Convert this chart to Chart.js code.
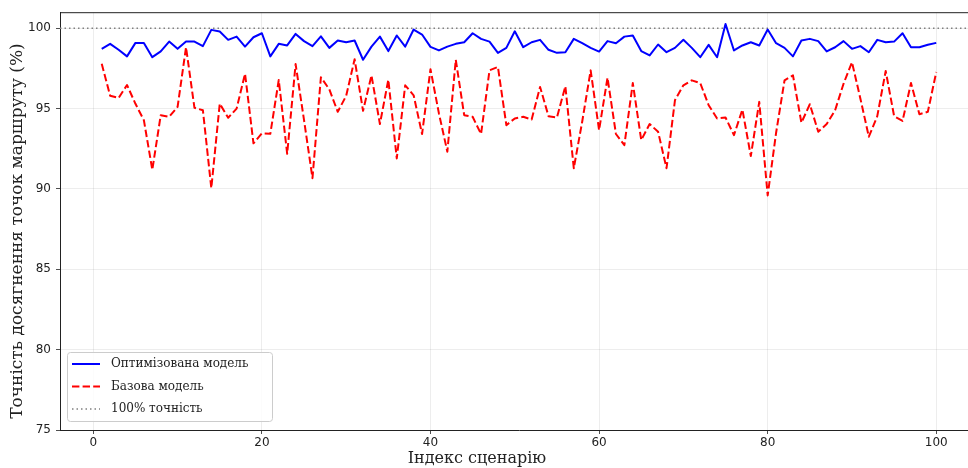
<!DOCTYPE html>
<html>
<head>
<meta charset="utf-8">
<script src="https://cdn.jsdelivr.net/npm/chart.js@4.4.1/dist/chart.umd.min.js"></script>
<style>
  html, body { margin: 0; padding: 0; background: #fff; overflow: hidden; }
  #wrap { width: 968px; height: 468px; overflow: hidden; }
</style>
</head>
<body>
<div id="wrap"><canvas id="graph" width="980" height="468"></canvas></div>
<script>
// scenario index 1..100
const scenarios = Array.from({ length: 100 }, (_, i) => i + 1);

const optimized = [
  98.72, 99.03, 98.66, 98.25, 99.09, 99.09, 98.2, 98.56, 99.17, 98.72,
  99.17, 99.17, 98.89, 99.9, 99.8, 99.28, 99.48, 98.86, 99.44, 99.69,
  98.25, 99.03, 98.93, 99.65, 99.2, 98.89, 99.5, 98.78, 99.24, 99.13,
  99.24, 98.04, 98.86, 99.48, 98.58, 99.55, 98.86, 99.92, 99.61, 98.84,
  98.62, 98.86, 99.03, 99.13, 99.69, 99.34, 99.17, 98.47, 98.78, 99.81,
  98.82, 99.13, 99.28, 98.66, 98.47, 98.51, 99.34, 99.07, 98.78, 98.55,
  99.2, 99.07, 99.48, 99.55, 98.58, 98.31, 98.99, 98.51, 98.78, 99.28,
  98.78, 98.2, 98.97, 98.2, 100.27, 98.62, 98.93, 99.13, 98.93, 99.92,
  99.07, 98.78, 98.25, 99.24, 99.34, 99.2, 98.56, 98.82, 99.2, 98.72,
  98.89, 98.51, 99.28, 99.13, 99.17, 99.69, 98.82, 98.82, 98.97, 99.09
];

const baseline = [
  97.79, 95.8, 95.66, 96.47, 95.3, 94.28, 91.19, 94.59, 94.49, 95.11,
  98.82, 95.05, 94.9, 90.05, 95.31, 94.43, 95.0, 97.17, 92.84, 93.46,
  93.43, 96.78, 92.19, 97.77, 94.28, 90.67, 96.95, 96.2, 94.8, 95.8,
  98.07, 94.86, 97.07, 94.04, 96.8, 91.9, 96.45, 95.83, 93.42, 97.45,
  94.7, 92.32, 98.04, 94.59, 94.49, 93.42, 97.38, 97.59, 93.97, 94.39,
  94.49, 94.32, 96.35, 94.53, 94.45, 96.39, 91.29, 94.2, 97.38, 93.66,
  96.92, 93.42, 92.73, 96.59, 93.04, 94.04, 93.56, 91.29, 95.52, 96.45,
  96.76, 96.59, 95.21, 94.39, 94.45, 93.35, 94.94, 92.05, 95.42, 89.6,
  93.5, 96.76, 97.07, 94.12, 95.27, 93.56, 94.04, 94.9, 96.55, 97.89,
  95.62, 93.25, 94.53, 97.34, 94.53, 94.24, 96.59, 94.65, 94.8, 97.28
];

const target = 100;
const xTicks = [0, 20, 40, 60, 80, 100];
const yTicks = [75, 80, 85, 90, 95, 100];
const xRange = [-3.95, 104.95];
const yRange = [75, 101];

const seriesLabels = ["Оптимізована модель", "Базова модель", "100% точність"];
const xTitle = "Індекс сценарію";
const yTitle = "Точність досягнення точок маршруту (%)";

const serif = "'DejaVu Serif', serif";
const sans = "'DejaVu Sans', sans-serif";

const toPoints = (arr) => arr.map((v, i) => ({ x: scenarios[i], y: v }));

// top spine, axis titles and legend box inside plot (lower left)
const framePlugin = {
  id: "frame",
  afterDraw(chart) {
    const { ctx, chartArea } = chart;
    ctx.save();
    ctx.strokeStyle = "#222";
    ctx.lineWidth = 1;
    ctx.beginPath();
    ctx.moveTo(chartArea.left, chartArea.top + 0.5);
    ctx.lineTo(chartArea.right, chartArea.top + 0.5);
    ctx.stroke();

    // axis titles (visible part of the figure is 968 wide)
    ctx.fillStyle = "#222";
    ctx.textAlign = "center";
    ctx.textBaseline = "middle";
    ctx.font = "16px " + serif;
    ctx.fillText(xTitle, 477, 459);
    ctx.save();
    ctx.translate(18, 231);
    ctx.rotate(-Math.PI / 2);
    ctx.font = "17px " + serif;
    ctx.fillText(yTitle, 0, 0);
    ctx.restore();

    // legend
    ctx.font = "12px " + serif;
    const sets = chart.data.datasets;
    const textW = Math.max(...sets.map(d => ctx.measureText(d.label).width));
    const rowH = 22.5;
    const boxX = chartArea.left + 7;
    const boxH = rowH * (sets.length - 1) + 24;
    const boxY = chartArea.bottom - 9 - boxH;
    const boxW = Math.max(205, 44 + textW + 8);
    ctx.fillStyle = "rgba(255,255,255,0.8)";
    ctx.strokeStyle = "#cccccc";
    ctx.lineWidth = 1;
    ctx.beginPath();
    ctx.roundRect(boxX + 0.5, boxY + 0.5, boxW, boxH, 3);
    ctx.fill();
    ctx.stroke();
    sets.forEach((d, i) => {
      const cy = boxY + 12 + i * rowH;
      ctx.strokeStyle = d.borderColor;
      ctx.lineWidth = d.borderWidth;
      ctx.setLineDash(d.borderDash || []);
      ctx.beginPath();
      ctx.moveTo(boxX + 5, cy);
      ctx.lineTo(boxX + 33, cy);
      ctx.stroke();
      ctx.setLineDash([]);
      ctx.fillStyle = "#222";
      ctx.textBaseline = "middle";
      ctx.textAlign = "left";
      ctx.fillText(d.label, boxX + 44, cy);
    });
    ctx.restore();
  }
};

const ctx = document.getElementById("graph").getContext("2d");

new Chart(ctx, {
  type: "line",
  data: {
    datasets: [
      {
        label: seriesLabels[0],
        data: toPoints(optimized),
        borderColor: "#0000ff",
        borderWidth: 2,
        borderJoinStyle: "round",
        pointRadius: 0,
        tension: 0
      },
      {
        label: seriesLabels[1],
        data: toPoints(baseline),
        borderColor: "#ff0000",
        borderWidth: 2,
        borderDash: [7.4, 3.2],
        borderJoinStyle: "round",
        pointRadius: 0,
        tension: 0
      },
      {
        label: seriesLabels[2],
        data: [{ x: xRange[0], y: target }, { x: xRange[1], y: target }],
        borderColor: "#808080",
        borderWidth: 1.5,
        borderDash: [1.5, 3],
        pointRadius: 0
      }
    ]
  },
  options: {
    responsive: false,
    animation: false,
    layout: { padding: { top: 9, right: 2, left: 0, bottom: 0 } },
    plugins: {
      legend: { display: false },
      tooltip: { enabled: false }
    },
    scales: {
      x: {
        type: "linear",
        min: xRange[0],
        max: xRange[1],
        afterBuildTicks: (s) => { s.ticks = xTicks.map(v => ({ value: v })); },
        afterFit: (s) => { s.height = 38; },
        grid: { color: "rgba(0,0,0,0.09)", lineWidth: 0.8, tickLength: 4, tickColor: "#222" },
        border: { color: "#222", width: 1 },
        ticks: { font: { family: sans, size: 12 }, color: "#222", padding: 2, maxRotation: 0 }
      },
      y: {
        min: yRange[0],
        max: yRange[1],
        afterBuildTicks: (s) => { s.ticks = yTicks.map(v => ({ value: v })); },
        afterFit: (s) => { s.width = 60; },
        grid: { color: "rgba(0,0,0,0.09)", lineWidth: 0.8, tickLength: 4, tickColor: "#222" },
        border: { color: "#222", width: 1 },
        ticks: { font: { family: sans, size: 12 }, color: "#222", padding: 5 }
      }
    }
  },
  plugins: [framePlugin]
});
</script>
</body>
</html>
